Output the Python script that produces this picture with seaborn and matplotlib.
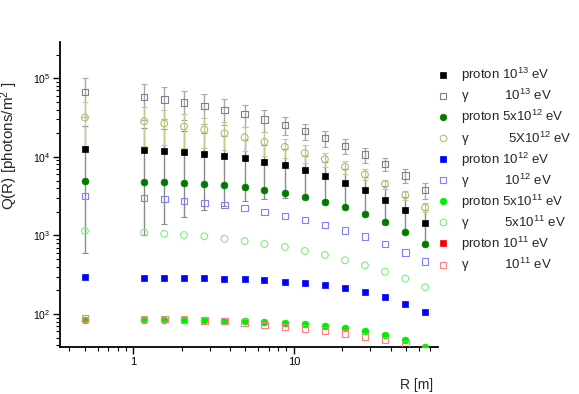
import matplotlib
matplotlib.use("Agg")
import matplotlib.pyplot as plt
import seaborn as sns
import numpy as np
import pandas as pd
from matplotlib.ticker import LogLocator, NullFormatter, FuncFormatter
from matplotlib.lines import Line2D

# ---------------- data ----------------
R = [0.5, 1.17, 1.56, 2.07, 2.77, 3.7, 4.94, 6.56, 8.79, 11.7, 15.6, 20.8, 27.7, 36.9, 49.4, 65.7]

p13 = [12600, 12200, 11900, 11500, 11000, 10300, 9550, 8640, 7780, 6720, 5690, 4680, 3740, 2860, 2090, 1450]
p13_err = [12000, 11200, 10500, 9800, 8900, 7900, 6800, 5700, 4800, 3600, 2900, 2350, 1870, 1370, 1000, 660]
g13 = [67000, 57800, 54100, 49500, 44400, 39600, 35200, 30100, 25500, 21400, 17300, 13800, 10700, 8070, 5800, 3780]
g13_err = [35000, 28000, 23400, 20300, 18300, 14500, 11100, 9100, 6700, 5200, 4100, 3000, 2300, 1550, 1120, 900]
p5e12 = [4910, 4810, 4730, 4630, 4500, 4330, 4120, 3810, 3490, 3100, 2680, 2280, 1850, 1470, 1100, 770]
g5e12 = [31700, 28400, 26600, 24300, 22300, 20000, 17800, 15500, 13400, 11200, 9350, 7470, 5980, 4500, 3260, 2270]
g5e12_err = [17800, 14800, 12600, 11300, 9400, 7900, 5900, 5100, 3700, 2800, 1850, 1460, 940, 600, 440, 300]
p12 = [293, 290, 290, 290, 285, 281, 276, 268, 258, 248, 232, 212, 189, 163, 133, 105]
g12 = [3190, 3010, 2900, 2760, 2580, 2430, 2230, 2000, 1780, 1570, 1360, 1150, 962, 778, 610, 463]
p5e11 = [84, 84, 85, 84, 83, 81.7, 80.7, 80, 77, 74.8, 71.2, 66.5, 61.5, 54.7, 46.3, 38.5]
g5e11 = [1140, 1090, 1050, 1010, 975, 908, 849, 778, 712, 634, 564, 483, 417, 346, 282, 219]
# proton 1e11 lies below the plotted range (not visible in the reference)
p11 = [14, 14, 14, 14, 13, 13, 13, 12, 12, 11, 11, 10, 9, 8, 7, 6]
g11 = [88, 86, 86, 85, 83, 81, 78, 72.5, 68.4, 65, 61.9, 56.7, 51.9, 46.7, 41.1, 35]

labels = [
    "proton 10$^{13}$ eV",
    "\u03b3          10$^{13}$ eV",
    "proton 5x10$^{12}$ eV",
    "\u03b3           5X10$^{12}$ eV",
    "proton 10$^{12}$ eV",
    "\u03b3          10$^{12}$ eV",
    "proton 5x10$^{11}$ eV",
    "\u03b3          5x10$^{11}$ eV",
    "proton 10$^{11}$ eV",
    "\u03b3          10$^{11}$ eV",
]
values = [p13, g13, p5e12, g5e12, p12, g12, p5e11, g5e11, p11, g11]
colors = ["#000000", "#808080", "#007a00", "#b8b870", "#0000ff",
          "#8080ff", "#00ee00", "#80ee80", "#ff0000", "#ff8080"]
markers = ["s", "s", "o", "o", "s", "s", "o", "o", "s", "s"]
filled = [True, False, True, False, True, False, True, False, True, False]

# ---------------- style ----------------
sns.set_theme(style="ticks")
plt.rcParams["font.family"] = ["Liberation Sans", "DejaVu Sans"]
plt.rcParams["mathtext.fontset"] = "custom"
plt.rcParams["mathtext.rm"] = "Liberation Sans"
plt.rcParams["mathtext.it"] = "Liberation Sans:italic"
plt.rcParams["mathtext.bf"] = "Liberation Sans:bold"

fig = plt.figure(figsize=(5.79, 3.94), dpi=100)
ax = fig.add_axes([60 / 579, 47 / 394, 378 / 579, 305 / 394])

ax.set_xscale("log")
ax.set_yscale("log")

# error bars (behind markers)
ax.errorbar(R, g13, yerr=g13_err, fmt="none", ecolor="#a8a8a8", elinewidth=1.0,
            capsize=2.5, capthick=0.8, zorder=1)
ax.errorbar(R, p13, yerr=p13_err, fmt="none", ecolor="#8a8a8a", elinewidth=1.0,
            capsize=2.5, capthick=0.8, zorder=1.1)
ax.errorbar(R, g5e12, yerr=g5e12_err, fmt="none", ecolor="#c8c890", elinewidth=1.0,
            capsize=2.5, capthick=0.8, zorder=1.2)

handles = []
for lab, vals, col, mk, fl in zip(labels, values, colors, markers, filled):
    df = pd.DataFrame({"R": R, "Q": vals})
    s = 22 if mk == "s" else 24
    if fl:
        sns.scatterplot(data=df, x="R", y="Q", marker=mk, s=s, color=col,
                        edgecolor=col, linewidth=0.5, ax=ax, zorder=3, legend=False)
        handles.append(Line2D([], [], ls="", marker=mk, ms=4.7, mfc=col, mec=col, mew=0.5))
    else:
        sns.scatterplot(data=df, x="R", y="Q", marker=mk, s=s, facecolor="none",
                        edgecolor=col, linewidth=0.8, ax=ax, zorder=3, legend=False)
        handles.append(Line2D([], [], ls="", marker=mk, ms=4.7, mfc="none", mec=col, mew=0.8))

ax.set_xlim(0.35, 79)
ax.set_ylim(38, 2.9e5)

ax.xaxis.set_major_locator(LogLocator(base=10, numticks=10))
ax.xaxis.set_minor_locator(LogLocator(base=10, subs=np.arange(2, 10), numticks=20))
ax.xaxis.set_major_formatter(FuncFormatter(lambda v, p: f"{v:g}"))
ax.xaxis.set_minor_formatter(NullFormatter())
ax.yaxis.set_minor_locator(LogLocator(base=10, subs=np.arange(2, 10), numticks=20))
ax.yaxis.set_minor_formatter(NullFormatter())

for sp in ["top", "right"]:
    ax.spines[sp].set_visible(False)
for sp in ["left", "bottom"]:
    ax.spines[sp].set_linewidth(1.3)
    ax.spines[sp].set_color("black")

ax.tick_params(axis="both", which="major", direction="out", length=5, width=1.0, colors="black")
ax.tick_params(axis="both", which="minor", direction="out", length=3, width=0.8, colors="black")
ax.tick_params(axis="x", labelsize=8, pad=2)
ax.tick_params(axis="y", labelsize=7.5, pad=2)

ax.set_xlabel("R [m]", fontsize=10)
ax.xaxis.set_label_coords(0.944, -0.10)
ax.set_ylabel("Q(R) [photons/m$^2$ ]", fontsize=11)
ax.yaxis.set_label_coords(-0.105, 0.66)

fig.legend(handles, labels, loc="upper left", bbox_to_anchor=(436 / 579, 1 - 66 / 394),
           bbox_transform=fig.transFigure, frameon=False, fontsize=9.5,
           handlelength=1.0, handletextpad=0.9, labelspacing=0.22,
           borderpad=0, borderaxespad=0)

fig.savefig("out.png", dpi=100)
